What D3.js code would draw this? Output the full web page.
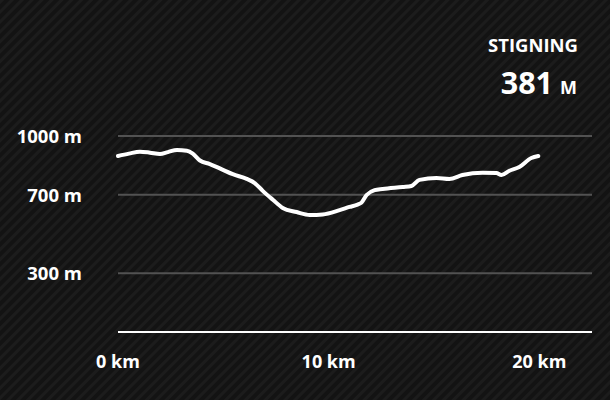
<!DOCTYPE html>
<html><head><meta charset="utf-8">
<script src="https://cdn.jsdelivr.net/npm/d3@7"></script>
<style>html,body{margin:0;padding:0;background:#161616;}svg{display:block;}</style>
</head><body>
<script>
const distanceKm = [0,0.52,1.04,1.52,1.99,2.37,2.80,3.27,3.55,3.89,4.36,4.93,5.45,6.11,6.49,6.87,7.35,7.82,8.48,9.10,9.72,10.52,10.99,11.37,11.56,11.80,12.18,12.56,13.51,13.93,14.31,15.12,15.73,16.35,17.30,17.96,18.20,18.58,19.05,19.62,19.95];
const elevationM = [898,910,920,915,908,918,929,925,910,875,857,830,805,781,760,720,675,633,612,597,600,622,638,650,660,699,724,730,740,745,776,786,781,801,813,811,801,823,842,888,898];
const yTicks = [300,700,1000];
const xTicks = [0,10,20];
const titleText = "STIGNING";
const climbValue = "381";
const climbUnit = "M";

const W=610,H=400;
const svg=d3.select("body").append("svg").attr("width",W).attr("height",H);
const defs=svg.append("defs");
const pat=defs.append("pattern").attr("id","bg").attr("width",7).attr("height",7)
  .attr("patternUnits","userSpaceOnUse").attr("patternTransform","rotate(45)");
pat.append("rect").attr("width",7).attr("height",7).attr("fill","#131313");
pat.append("rect").attr("width",3).attr("height",7).attr("fill","#1c1c1c");
svg.append("rect").attr("width",W).attr("height",H).attr("fill","url(#bg)");

const x=d3.scaleLinear().domain([0,22.5]).range([118,592]);
const y=d3.scaleLinear().domain([0,1000]).range([332,136]);
const font="'Open Sans', sans-serif";

// gridlines
svg.append("g").selectAll("line").data(yTicks).join("line")
  .attr("x1",x(0)).attr("x2",x(22.5)).attr("y1",d=>y(d)).attr("y2",d=>y(d))
  .attr("stroke","#525252").attr("stroke-width",2);
// baseline
svg.append("line").attr("x1",x(0)).attr("x2",x(22.5)).attr("y1",y(0)).attr("y2",y(0))
  .attr("stroke","#fff").attr("stroke-width",2);

// y labels
svg.append("g").selectAll("text").data(yTicks).join("text")
  .attr("x",82).attr("y",d=>y(d)+7).attr("text-anchor","end")
  .attr("font-family",font).attr("font-weight",700).attr("font-size",18.5).attr("fill","#fff")
  .text(d=>d+" m");
// x labels
svg.append("g").selectAll("text").data(xTicks).join("text")
  .attr("x",d=>x(d)).attr("y",368).attr("text-anchor","middle")
  .attr("font-family",font).attr("font-weight",700).attr("font-size",18).attr("fill","#fff")
  .text(d=>d+" km");

// line
const pts=distanceKm.map((d,i)=>[d,elevationM[i]]);
svg.append("path").datum(pts)
  .attr("d",d3.line().x(d=>x(d[0])).y(d=>y(d[1])).curve(d3.curveMonotoneX))
  .attr("fill","none").attr("stroke","#fff").attr("stroke-width",4)
  .attr("stroke-linejoin","round").attr("stroke-linecap","round");

// title block
svg.append("text").attr("x",533).attr("y",52).attr("text-anchor","middle")
  .attr("font-family",font).attr("font-weight",700).attr("font-size",18.5).attr("fill","#fff")
  .text(titleText);
const t=svg.append("text").attr("x",577).attr("y",94).attr("text-anchor","end")
  .attr("font-family",font).attr("font-weight",700).attr("fill","#fff");
t.append("tspan").attr("font-size",30.5).text(climbValue);
t.append("tspan").attr("font-size",18).attr("dx",7).text(climbUnit);
</script>
</body></html>
